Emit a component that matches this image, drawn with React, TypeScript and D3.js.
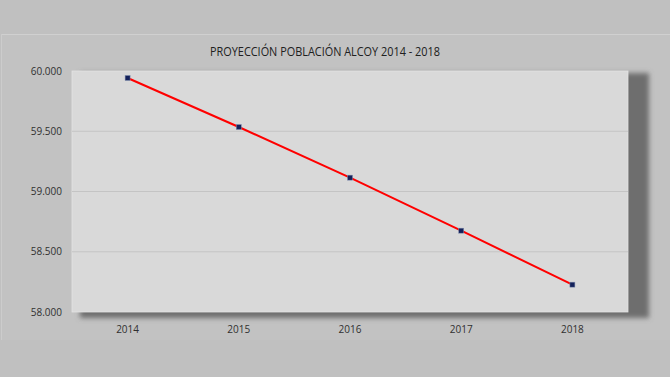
import React from "react";
import * as d3 from "d3";

const years = ["2014", "2015", "2016", "2017", "2018"];
const population = [59942, 59535, 59115, 58675, 58227];
const yTicks = [58000, 58500, 59000, 59500, 60000];
const title = "PROYECCIÓN POBLACIÓN ALCOY 2014 - 2018";

const W = 670, H = 377;
const plot = { left: 72, top: 71, right: 628, bottom: 312 };

export default function App() {
  const x = d3.scaleBand<string>().domain(years).range([plot.left, plot.right]);
  const y = d3.scaleLinear().domain([58000, 60000]).range([plot.bottom, plot.top]);
  const lab = (v: number) => {
    const s = String(v);
    return s.slice(0, s.length - 3) + "." + s.slice(s.length - 3);
  };
  const line = d3
    .line<number>()
    .x((_, i) => (x(years[i]) as number) + x.bandwidth() / 2)
    .y((d) => y(d));
  const font = "'Open Sans', 'Noto Sans', sans-serif";
  return (
    <svg width={W} height={H} style={{ position: "absolute", left: 0, top: 0 }}>
      <defs>
        <filter id="sh" x="-10%" y="-10%" width="120%" height="120%">
          <feGaussianBlur stdDeviation="2.5" />
        </filter>
      </defs>
      <rect x={0} y={0} width={W} height={H} fill="#c0c0c0" />
      <rect x={1} y={34} width={W} height={306} fill="#c2c2c2" />
      <line x1={1} x2={W} y1={34.5} y2={34.5} stroke="#d0d0d0" strokeWidth={1.2} />
      <line x1={1.5} x2={1.5} y1={34} y2={340} stroke="#cccccc" strokeWidth={1} />
      <text x={325} y={56} textAnchor="middle" fontFamily={font} fontSize={13.5} fill="#202020" textLength={230} lengthAdjust="spacingAndGlyphs">
        {title}
      </text>
      <rect x={plot.left + 8} y={plot.top + 2} width={plot.right - plot.left + 13} height={plot.bottom - plot.top + 4} fill="#6e6e6e" filter="url(#sh)" />
      <rect x={plot.left} y={plot.top} width={plot.right - plot.left} height={plot.bottom - plot.top} fill="#d9d9d9" stroke="#e4e4e4" strokeWidth={0.8} />
      {yTicks.map((t) => (
        <g key={t}>
          {t !== 58000 && t !== 60000 && (
            <line x1={plot.left} x2={plot.right} y1={y(t)} y2={y(t)} stroke="#c4c4c4" strokeWidth={1} />
          )}
          <text x={62} y={y(t) + 3.5} textAnchor="end" fontFamily={font} fontSize={10} fill="#303030">
            {lab(t)}
          </text>
        </g>
      ))}
      {years.map((yr) => (
        <text key={yr} x={(x(yr) as number) + x.bandwidth() / 2} y={333} textAnchor="middle" fontFamily={font} fontSize={10} fill="#303030">
          {yr}
        </text>
      ))}
      <path d={line(population) || ""} fill="none" stroke="#ff0000" strokeWidth={2} />
      {population.map((v, i) => (
        <rect
          key={i}
          x={(x(years[i]) as number) + x.bandwidth() / 2 - 2.5}
          y={y(v) - 2.5}
          width={5}
          height={5}
          fill="#14215a"
          stroke="#8090b0"
          strokeWidth={0.5}
        />
      ))}
    </svg>
  );
}
